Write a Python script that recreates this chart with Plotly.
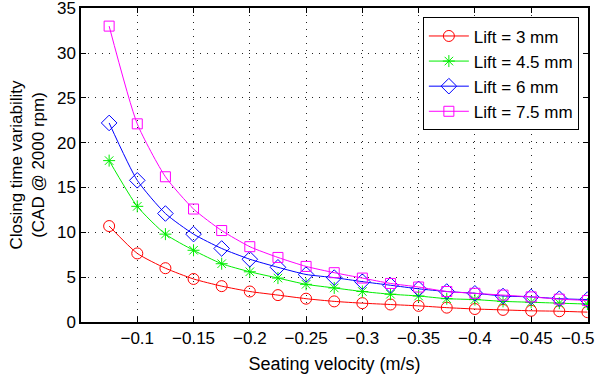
import plotly.graph_objects as go

velocity = [-0.075, -0.1, -0.125, -0.15, -0.175, -0.2, -0.225, -0.25, -0.275,
            -0.3, -0.325, -0.35, -0.375, -0.4, -0.425, -0.45, -0.475, -0.5]
lift_3 = [10.7, 7.65, 6.0, 4.8, 4.0, 3.4, 3.0, 2.6, 2.3, 2.1, 1.95, 1.8, 1.6, 1.45, 1.35, 1.25, 1.2, 1.1]
lift_45 = [18.0, 12.9, 9.8, 8.0, 6.5, 5.6, 4.9, 4.2, 3.8, 3.4, 3.1, 2.9, 2.6, 2.5, 2.3, 2.2, 2.1, 2.0]
lift_6 = [22.2, 15.8, 12.1, 9.8, 8.2, 7.0, 6.1, 5.3, 4.95, 4.5, 4.1, 3.7, 3.4, 3.2, 2.9, 2.8, 2.6, 2.5]
lift_75 = [33.0, 22.1, 16.2, 12.6, 10.2, 8.4, 7.2, 6.2, 5.5, 4.9, 4.3, 3.9, 3.4, 3.2, 3.0, 2.8, 2.55, 2.4]

x_tickvals = [-0.1, -0.15, -0.2, -0.25, -0.3, -0.35, -0.4, -0.45, -0.5]
x_ticktext = ["\u22120.1", "\u22120.15", "\u22120.2", "\u22120.25", "\u22120.3",
              "\u22120.35", "\u22120.4", "\u22120.45", "\u22120.5"]
y_tickvals = [0, 5, 10, 15, 20, 25, 30, 35]

series = [
    ("Lift = 3 mm", lift_3, "#ff0000", "circle-open", 11),
    ("Lift = 4.5 mm", lift_45, "#00ee00", "asterisk-open", 10),
    ("Lift = 6 mm", lift_6, "#0000ff", "diamond-open", 12),
    ("Lift = 7.5 mm", lift_75, "#ff00ff", "square-open", 10),
]

fig = go.Figure()
for name, ys, color, sym, sz in series:
    fig.add_trace(go.Scatter(
        x=velocity, y=ys, name=name, mode="lines+markers",
        line=dict(color=color, width=1, shape="spline", smoothing=0.6),
        marker=dict(symbol=sym, size=sz, color=color, line=dict(color=color, width=1)),
    ))

font = "Liberation Sans, Arial, Helvetica, sans-serif"
FS = 17

# last tick label is squeezed inside the figure edge (as in the reference)
fig.add_annotation(text=x_ticktext[-1], x=x_tickvals[-1], xref="x", y=0, yref="paper",
                   xanchor="right", yanchor="top", xshift=10, yshift=-5,
                   showarrow=False, font=dict(size=FS, family=font, color="black"))

fig.update_layout(
    width=600, height=379,
    margin=dict(l=81, r=12, t=8, b=57),
    paper_bgcolor="white", plot_bgcolor="white",
    font=dict(family=font, size=FS, color="black"),
    showlegend=True,
    legend=dict(x=0.982, y=0.97, xanchor="right", yanchor="top",
                bgcolor="white", bordercolor="black", borderwidth=1,
                font=dict(size=FS), tracegroupgap=0, itemwidth=40),
    xaxis=dict(
        range=[-0.05, -0.5005], tickmode="array", automargin=False,
        tickvals=x_tickvals, ticktext=x_ticktext[:-1] + [""],
        showgrid=True, gridcolor="#222222", griddash="1px,6px", gridwidth=1,
        showline=True, linecolor="black", linewidth=1.5, mirror="ticks",
        ticks="inside", ticklen=5, tickcolor="black", zeroline=False,
        title=dict(text="Seating velocity (m/s)", font=dict(size=18), standoff=10),
        tickfont=dict(size=FS),
    ),
    yaxis=dict(
        range=[0, 35.02], tickmode="array", tickvals=y_tickvals, ticklabeloverflow="allow",
        automargin=False,
        showgrid=True, gridcolor="#222222", griddash="1px,6px", gridwidth=1,
        showline=True, linecolor="black", linewidth=1.5, mirror="ticks",
        ticks="inside", ticklen=5, tickcolor="black", zeroline=False,
        title=dict(text="Closing time variability<br>(CAD @ 2000 rpm)", font=dict(size=FS), standoff=8),
        tickfont=dict(size=FS),
    ),
)

fig.write_html("out.html", config={"displayModeBar": False},
               post_script="document.body.style.margin='0';document.body.style.overflow='hidden';")
